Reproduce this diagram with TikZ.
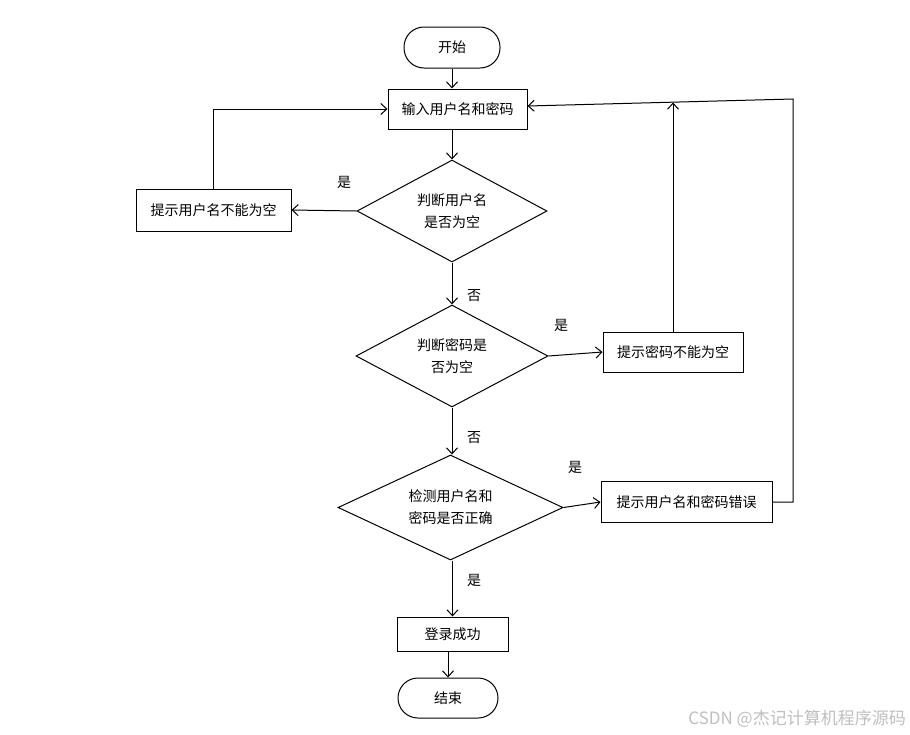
\documentclass[tikz,border=0pt]{standalone}
\usepackage{fontspec}
\setmainfont{Noto Sans CJK SC}
\usetikzlibrary{shapes.geometric,arrows.meta}
\tikzset{
        every node/.style={font=\fontsize{14}{22}\selectfont},
        line/.style={draw=black, line width=1pt},
        flow/.style={line, -{Straight Barb[length=6pt,width=11pt,line width=1pt]}},
        terminal/.style={line, rectangle, rounded corners=20pt, inner sep=0pt},
        process/.style={line, rectangle, inner sep=0pt},
        decision/.style={line, diamond, inner sep=0pt, shape aspect=2, align=center},
        answer/.style={inner sep=0pt},
        watermark/.style={text=black!25, font=\fontsize{17}{20}\selectfont, inner sep=0pt}
          }
\begin{document}
\begin{tikzpicture}[x=1pt, y=-1pt]
        \useasboundingbox (0,0) rectangle (910,734);
        \node[terminal, minimum width=96pt, minimum height=41pt] (start) at (452,47.5) {开始};
        \node[process, minimum width=139pt, minimum height=40pt] (input) at (457.5,109) {输入用户名和密码};
        \node[decision, minimum width=190pt, minimum height=102pt] (judgeuser) at (452,211) {判断用户名\\是否为空};
        \node[process, minimum width=155pt, minimum height=42pt] (usertip) at (213.5,210) {提示用户名不能为空};
        \node[decision, minimum width=192pt, minimum height=102pt] (judgepwd) at (452,356) {判断密码是\\否为空};
        \node[process, minimum width=140pt, minimum height=40pt] (pwdtip) at (673,352) {提示密码不能为空};
        \node[decision, minimum width=225pt, minimum height=105pt] (judgecheck) at (450.5,507.5) {检测用户名和\\密码是否正确};
        \node[process, minimum width=171pt, minimum height=41pt] (errtip) at (686.5,502) {提示用户名和密码错误};
        \node[process, minimum width=111pt, minimum height=34pt] (success) at (452.5,634) {登录成功};
        \node[terminal, minimum width=100pt, minimum height=40pt] (finish) at (448,698) {结束};
        \coordinate (corner) at (793,99);
        \coordinate (pwdjoin) at (673,102.5);

        \draw[flow] (start) -- (start |- input.north);
        \draw[flow] (input.south -| judgeuser.north) -- (judgeuser.north);
        \draw[flow] (judgeuser.west) -- (usertip.east);
        \draw[flow] (usertip.north) |- (input.west);
        \draw[flow] (judgeuser.south) -- (judgepwd.north);
        \draw[flow] (judgepwd.east) -- (pwdtip.west);
        \draw[flow] (pwdtip.north) -- (pwdjoin);
        \draw[flow] (judgepwd.south) -- (judgecheck.north -| judgepwd.south);
        \draw[flow] (judgecheck.east) -- (errtip.west);
        \draw[flow] (errtip.east) -| (corner) -- ([yshift=3pt]input.east);
        \draw[flow] (judgecheck.south -| success.north) -- (success.north);
        \draw[flow] (success.south -| finish.north) -- (finish.north);

        \node[answer] (yes1) at (344,182) {是};
        \node[answer] (no1) at (474,296) {否};
        \node[answer] (yes2) at (561,325) {是};
        \node[answer] (no2) at (474,438) {否};
        \node[answer] (yes3) at (575,467) {是};
        \node[answer] (yes4) at (474,580) {是};
        \node[watermark, anchor=east] (mark) at (906,719) {CSDN @杰记计算机程序源码};
      \end{tikzpicture}
\end{document}
